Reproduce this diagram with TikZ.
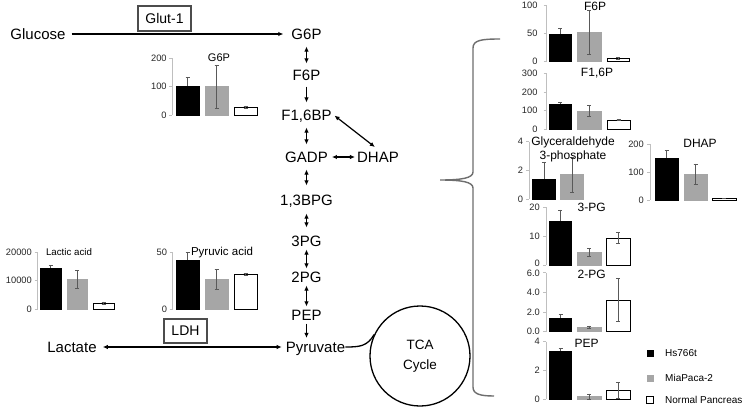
\documentclass[tikz,border=0pt]{standalone}
\usepackage{fontspec}
\setmainfont{Liberation Sans}
\usetikzlibrary{arrows.meta}
\definecolor{barg}{HTML}{A6A6A6}
\definecolor{errc}{HTML}{595959}
\definecolor{axc}{HTML}{BFBFBF}
\definecolor{bracec}{HTML}{6E6E6E}
\newcounter{tkc}
\def\tkgap{5.5}
\newcommand\chartaxis[3]{\draw[axisline] (#1,#2) -- (#1,#3);}
\newcommand\charttick[4][0]{\stepcounter{tkc}\draw[axisline] (#2-3,#3) -- (#2,#3);
  \node[ticklbl,anchor=east] (tick\arabic{tkc}) at (#2-\tkgap,#3+#1) {#4};}
% #1 xl, #2 xr, #3 base, #4 scale, #5 value, #6 err, #7 style, #8 redraw error on top (1/0)
\newcommand\mybar[8]{%
  \pgfmathsetmacro\cbtop{#3-#4*#5}%
  \pgfmathsetmacro\cbhi{#3-#4*(#5+#6)}%
  \pgfmathsetmacro\cblo{#3-#4*max(#5-#6,0)}%
  \pgfmathsetmacro\cbmid{(#1+#2)/2}%
  \draw[errbar] (\cbmid,\cbhi) -- (\cbmid,\cblo) (\cbmid-2,\cbhi) -- (\cbmid+2,\cbhi);
  \draw[#7] (#1,#3) rectangle (#2,\cbtop);
  \ifnum#8=1
  \draw[errbar] (\cbmid,\cbhi) -- (\cbmid,\cblo) (\cbmid-2,\cbhi) -- (\cbmid+2,\cbhi) (\cbmid-2,\cblo) -- (\cbmid+2,\cblo);
  \fi
}
\tikzset{
  lbl/.style={font=\fontsize{15}{18}\selectfont, text height=10.7pt, text depth=0pt, inner sep=2pt},
  arr/.style={-{Latex[length=5pt,width=4.5pt]}, line width=1.2pt},
  dbl/.style={{Latex[length=5pt,width=4.5pt]}-{Latex[length=5pt,width=4.5pt]}, line width=1.2pt},
  enzyme/.style={draw=black!70, line width=1.1pt, font=\fontsize{14}{16}\selectfont, inner sep=0pt},
  axisline/.style={draw=axc, line width=0.6pt},
  errbar/.style={draw=errc, line width=0.6pt},
  ticklbl/.style={font=\fontsize{9.3}{11}\selectfont, text=black!85, inner sep=0pt},
  ctitle/.style={font=\fontsize{12}{14}\selectfont, inner sep=0pt, align=center},
  hs/.style={fill=black, draw=black, line width=0.5pt},
  mia/.style={fill=barg, draw=barg, line width=0.5pt},
  np/.style={fill=white, draw=black, line width=0.8pt},
  legtxt/.style={font=\fontsize{10}{12}\selectfont, anchor=west, inner sep=0pt},
}
\begin{document}
\begin{tikzpicture}[x=1pt,y=-1pt]
\useasboundingbox (0,0) rectangle (742,407);
\fill[white] (0,0) rectangle (742,407);

% ---------- pathway ----------
\node[lbl] (glc) at (38,34) {Glucose};
\node[lbl] (g6p) at (306.5,34) {G6P};
\node[lbl] (f6p) at (306.5,75) {F6P};
\node[lbl] (f16bp) at (306.5,115) {F1,6BP};
\node[lbl] (gadp) at (306.5,157) {GADP};
\node[lbl] (dhap) at (378,157) {DHAP};
\node[lbl] (bpg) at (306.5,200) {1,3BPG};
\node[lbl] (pg3) at (306.5,241) {3PG};
\node[lbl] (pg2) at (306.5,277) {2PG};
\node[lbl] (pep) at (306.5,315) {PEP};
\node[lbl] (pyr) at (315.5,347) {Pyruvate};
\node[lbl] (lac) at (72,347) {Lactate};
\node[enzyme, minimum width=53pt, minimum height=25pt] (glut) at (164.5,18.5) {Glut-1};
\node[enzyme, minimum width=43pt, minimum height=24pt] (ldh) at (185.5,331) {LDH};
\node[circle, draw, line width=1.3pt, minimum size=100pt, inner sep=0pt, align=center,
      font=\fontsize{13.5}{20}\selectfont] (tca) at (420,356) {TCA\\Cycle};

\draw[arr, shorten <=4pt, shorten >=6pt] (glc) -- (g6p);
\draw[dbl, shorten <=5pt, shorten >=4pt] (g6p) -- (f6p);
\draw[arr, shorten <=4pt, shorten >=5pt] (f6p) -- (f16bp);
\draw[dbl, shorten <=5pt, shorten >=5pt] (f16bp) -- (gadp);
\draw[dbl, shorten <=5pt, shorten >=7pt] (gadp) -- (bpg);
\draw[dbl, shorten <=6pt, shorten >=6pt] (bpg) -- (pg3);
\draw[dbl, shorten <=1pt, shorten >=1pt] (pg3) -- (pg2);
\draw[dbl, shorten <=1pt, shorten >=1pt] (pg2) -- (pep);
\draw[arr, shorten <=1pt, shorten >=1.5pt] (pep) -- (pep |- pyr.north);
\draw[dbl, shorten <=2pt, shorten >=0pt] (gadp) -- (dhap);
\draw[dbl, shorten <=4pt, shorten >=1pt] (dhap.north) -- (f16bp.east);
\draw[dbl, shorten <=4pt, shorten >=2pt] (lac) -- (pyr);
\draw[line width=1.3pt] ([xshift=-2pt]pyr.east) .. controls +(14,0) and +(-7,12) .. (tca.155);

% ---------- brace ----------
\draw[bracec, line width=1.4pt] (500,39) .. controls (482,39) and (473,40) .. (473,48)
  -- (473,172) .. controls (473,178) and (462,180) .. (440,180)
  .. controls (462,180) and (473,182) .. (473,188)
  -- (473,387) .. controls (473,394) and (480,396) .. (494,396);

% ---------- G6P chart ----------
\chartaxis{172.3}{58.3}{115}
\charttick{172.3}{58.3}{200}\charttick{172.3}{86.7}{100}\charttick{172.3}{115}{0}
\mybar{176}{199}{115}{0.2833}{102}{31}{hs}{0}
\mybar{205}{228}{115}{0.2833}{100}{75}{mia}{1}
\mybar{234}{257}{115}{0.2833}{28}{4}{np}{1}
\node[ctitle, font=\fontsize{11}{13}\selectfont] (tg6p) at (219,58) {G6P};

% ---------- Lactic acid chart ----------
\chartaxis{37.5}{252}{309}
\charttick{37.5}{252}{20000}\charttick{37.5}{280.5}{10000}\charttick{37.5}{309}{0}
\mybar{40}{61}{309}{0.00285}{14400}{900}{hs}{0}
\mybar{67}{87}{309}{0.00285}{10400}{3000}{mia}{1}
\mybar{93}{114}{309}{0.00285}{2000}{500}{np}{1}
\node[ctitle, font=\fontsize{9.7}{12}\selectfont] (tlac) at (69,252) {Lactic acid};

% ---------- Pyruvic acid chart ----------
\chartaxis{172.7}{252}{309}
\charttick{172.7}{252}{50}\charttick{172.7}{309}{0}
\mybar{176}{199}{309}{1.14}{42.4}{7}{hs}{0}
\mybar{205}{228}{309}{1.14}{26}{9}{mia}{1}
\mybar{234}{257}{309}{1.14}{30.4}{0.8}{np}{1}
\node[ctitle, font=\fontsize{11.5}{13}\selectfont] (tpyr) at (222,252.5) {Pyruvic acid};

% ---------- F6P chart ----------
\def\tkgap{9}
\chartaxis{546.7}{5}{61.7}
\charttick{546.7}{5}{100}\charttick{546.7}{33.3}{50}\charttick{546.7}{61.7}{0}
\mybar{549}{571}{61.7}{0.567}{48}{11}{hs}{0}
\mybar{577}{601}{61.7}{0.567}{52}{39}{mia}{1}
\mybar{607}{629}{61.7}{0.567}{6}{1}{np}{1}
\node[ctitle] (tf6p) at (595,6.5) {F6P};

% ---------- F1,6P chart ----------
\chartaxis{546.7}{73.3}{129.3}
\charttick{546.7}{73.3}{300}\charttick{546.7}{92}{200}\charttick{546.7}{110.7}{100}\charttick{546.7}{129.3}{0}
\mybar{549}{571}{129.3}{0.1867}{134}{12}{hs}{0}
\mybar{577}{601}{129.3}{0.1867}{98}{30}{mia}{1}
\mybar{607}{630}{129.3}{0.1867}{50}{4}{np}{1}
\node[ctitle] (tf16p) at (597,73.5) {F1,6P};
\def\tkgap{6}

% ---------- Glyceraldehyde 3-phosphate chart ----------
\chartaxis{529.3}{141.7}{199}
\charttick{529.3}{141.7}{4}\charttick{529.3}{170.3}{2}\charttick{529.3}{199}{0}
\mybar{532.7}{555}{199}{14.3}{1.35}{1.25}{hs}{0}
\mybar{560.7}{583.3}{199}{14.3}{1.7}{1.2}{mia}{1}
\node[ctitle] (tgap) at (573,149) {Glyceraldehyde\\3-phosphate};

% ---------- DHAP chart ----------
\chartaxis{650}{144}{200}
\charttick{650}{144}{200}\charttick{650}{172}{100}\charttick{650}{200}{0}
\mybar{655}{678}{200}{0.28}{149}{27}{hs}{0}
\mybar{684}{707}{200}{0.28}{92}{37}{mia}{1}
\mybar{712}{736}{200}{0.28}{6}{1}{np}{1}
\node[ctitle] (tdhap) at (700,143.5) {DHAP};

% ---------- 3-PG chart ----------
\chartaxis{546}{207.3}{265}
\charttick{546}{207.3}{20}\charttick{546}{236.2}{10}\charttick[-2]{546}{265}{0}
\mybar{549.3}{571}{265}{2.88}{15.1}{4}{hs}{0}
\mybar{577.7}{601}{265}{2.88}{4.4}{1.5}{mia}{1}
\mybar{606.7}{630}{265}{2.88}{9.3}{1.9}{np}{1}
\node[ctitle] (t3pg) at (591.7,207.5) {3-PG};

% ---------- 2-PG chart ----------
\chartaxis{546}{272.7}{331.7}
\charttick[1]{546}{272.7}{6.0}\charttick{546}{292.4}{4.0}\charttick{546}{312}{2.0}\charttick{546}{331.7}{0.0}
\mybar{549.3}{571.7}{331.7}{9.83}{1.36}{0.4}{hs}{0}
\mybar{577.7}{601}{331.7}{9.83}{0.45}{0.15}{mia}{1}
\mybar{606.7}{630}{331.7}{9.83}{3.22}{2.2}{np}{1}
\node[ctitle] (t2pg) at (591.7,274.5) {2-PG};

% ---------- PEP chart ----------
\chartaxis{546}{341.7}{399.3}
\charttick{546}{341.7}{4}\charttick{546}{370.5}{2}\charttick{546}{399.3}{0}
\mybar{549.3}{571.7}{399.3}{14.4}{3.37}{0.15}{hs}{0}
\mybar{577.7}{601}{399.3}{14.4}{0.18}{0.2}{mia}{1}
\mybar{606.7}{630}{399.3}{14.4}{0.6}{0.55}{np}{1}
\node[ctitle] (tpep) at (586.7,343) {PEP};

% ---------- legend ----------
\fill[black] (646.5,349.5) rectangle (653.5,356.5);
\node[legtxt] (lg1) at (665,353) {Hs766t};
\fill[barg] (646.5,374.5) rectangle (653.5,381.5);
\node[legtxt] (lg2) at (665,378) {MiaPaca-2};
\draw[black, line width=0.9pt, fill=white] (646.5,396.5) rectangle (653.5,403.5);
\node[legtxt] (lg3) at (665,400) {Normal Pancreas};
\end{tikzpicture}
\end{document}
